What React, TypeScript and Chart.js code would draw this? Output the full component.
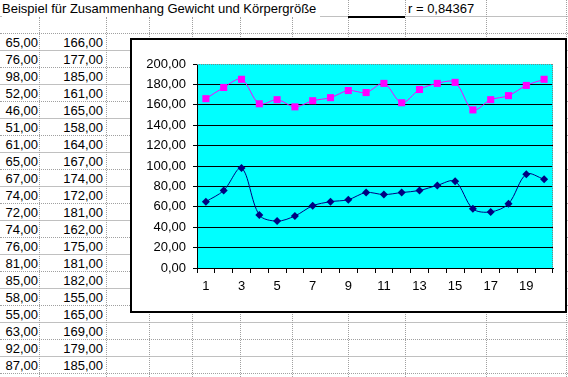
import React, { useEffect, useRef } from "react";
import { Chart, registerables } from "chart.js";

Chart.register(...registerables);

const categories = ["1", "2", "3", "4", "5", "6", "7", "8", "9", "10", "11", "12", "13", "14", "15", "16", "17", "18", "19", "20"];
const weight = [65, 76, 98, 52, 46, 51, 61, 65, 67, 74, 72, 74, 76, 81, 85, 58, 55, 63, 92, 87];
const bodyHeight = [166, 177, 185, 161, 165, 158, 164, 167, 174, 172, 181, 162, 175, 181, 182, 155, 165, 169, 179, 185];
const titleText = "Beispiel für Zusammenhang Gewicht und Körpergröße";
const rText = "r = 0,84367";
const yMin = 0;
const yMax = 200;
const yStep = 20;

const colX = [39, 106, 149, 192, 240, 292, 348, 405, 486, 566];
const FONT = "'Liberation Sans', Arial, sans-serif";

const fmt = (v: number) => v.toFixed(2).replace(".", ",");

const plotBg = {
  id: "plotBg",
  beforeDraw(chart: any) {
    const { ctx, chartArea: a } = chart;
    ctx.save();
    ctx.fillStyle = "#00FFFF";
    ctx.fillRect(a.left, a.top, a.right - a.left, a.bottom - a.top);
    ctx.restore();
  },
  beforeDatasetsDraw(chart: any) {
    const { ctx, chartArea: a } = chart;
    ctx.save();
    ctx.strokeStyle = "#808080";
    ctx.lineWidth = 1;
    ctx.setLineDash([1, 1]);
    ctx.beginPath();
    ctx.moveTo(a.left, Math.round(a.top) + 0.5);
    ctx.lineTo(a.right, Math.round(a.top) + 0.5);
    ctx.moveTo(Math.round(a.right) - 0.5, a.top);
    ctx.lineTo(Math.round(a.right) - 0.5, a.bottom);
    ctx.stroke();
    ctx.restore();
  },
};

function ChartBox() {
  const ref = useRef<HTMLCanvasElement>(null);
  useEffect(() => {
    if (!ref.current) return;
    const chart = new Chart(ref.current, {
      type: "line",
      data: {
        labels: categories,
        datasets: [
          {
            label: "Körpergröße",
            data: bodyHeight,
            borderColor: "#FF00FF",
            backgroundColor: "#FF00FF",
            borderWidth: 1,
            pointStyle: "rect",
            pointRadius: 5,
            pointBorderWidth: 0,
            pointBackgroundColor: "#FF00FF",
            tension: 0.33,
          },
          {
            label: "Gewicht",
            data: weight,
            borderColor: "#000080",
            backgroundColor: "#000080",
            borderWidth: 1,
            pointStyle: "rectRot",
            pointRadius: 4,
            pointBorderWidth: 0,
            pointBackgroundColor: "#000080",
            tension: 0.33,
          },
        ],
      },
      options: {
        animation: false,
        responsive: false,
        layout: { padding: { top: 24, right: 12, left: 0, bottom: 0 } },
        plugins: {
          legend: { display: false },
          tooltip: { enabled: false },
          title: { display: false },
        },
        scales: {
          x: {
            offset: true,
            grid: {
              offset: true,
              drawOnChartArea: false,
              drawTicks: true,
              tickLength: 5,
              tickColor: "#000",
              color: "#000",
            },
            border: { display: true, color: "#000", width: 1 },
            ticks: {
              autoSkip: false,
              maxRotation: 0,
              minRotation: 0,
              padding: 6,
              color: "#000",
              font: { family: FONT, size: 13 },
              callback: (_v: any, i: number) => (i % 2 === 0 ? categories[i] : ""),
            },
            afterFit: (s: any) => {
              s.height = 43;
            },
          },
          y: {
            min: yMin,
            max: yMax,
            grid: {
              color: (c: any) => (c.tick && c.tick.value === yMax ? "rgba(0,0,0,0)" : "#000"),
              tickColor: "#000",
              tickLength: 4,
              lineWidth: 1,
            },
            border: { display: true, color: "#000", width: 1 },
            ticks: {
              stepSize: yStep,
              padding: 7,
              color: "#000",
              font: { family: FONT, size: 13 },
              callback: (v: any) => fmt(Number(v)),
            },
            afterFit: (s: any) => {
              s.width = 65;
            },
          },
        },
      },
      plugins: [plotBg],
    });
    return () => chart.destroy();
  }, []);
  return <canvas ref={ref} width={433} height={271} style={{ display: "block", width: 433, height: 271 }} />;
}

export default function App() {
  const lines: React.ReactNode[] = [];
  for (let k = 1; k <= 22; k++) {
    const y = 17 * k;
    lines.push(
      <div
        key={"h" + k}
        style={{
          position: "absolute",
          left: 0,
          top: y - 1,
          width: 568,
          height: 0,
          borderTop: k % 2 === 1 ? "1px solid #c0c0c0" : "1px dotted #a0a0a0",
        }}
      />
    );
  }
  colX.forEach((x, i) => {
    const top = x >= 348 ? 0 : 17;
    lines.push(
      <div
        key={"v" + i}
        style={{
          position: "absolute",
          left: x,
          top,
          width: 0,
          height: 377 - top,
          borderLeft: "1px dotted #a0a0a0",
        }}
      />
    );
  });

  const cells: React.ReactNode[] = [];
  weight.forEach((w, i) => {
    const top = 34 + 17 * i;
    cells.push(
      <div key={"a" + i} style={{ position: "absolute", left: 0, width: 38, top, height: 17, lineHeight: "17px", textAlign: "right", whiteSpace: "nowrap" }}>
        {fmt(w)}
      </div>
    );
    cells.push(
      <div key={"b" + i} style={{ position: "absolute", left: 40, width: 63, top, height: 17, lineHeight: "17px", textAlign: "right", whiteSpace: "nowrap" }}>
        {fmt(bodyHeight[i])}
      </div>
    );
  });

  return (
    <div
      style={{
        position: "fixed",
        left: 0,
        top: 0,
        width: 568,
        height: 377,
        overflow: "hidden",
        background: "#fff",
        fontFamily: FONT,
        fontSize: 13,
        color: "#000",
      }}
    >
      {lines}
      <div style={{ position: "absolute", left: 348, top: 16, width: 57, height: 2, background: "#000" }} />
      <div style={{ position: "absolute", left: 2, top: 0, height: 17, lineHeight: "17px", whiteSpace: "nowrap", background: "#fff", paddingRight: 4 }}>
        {titleText}
      </div>
      <div style={{ position: "absolute", left: 408, top: 0, height: 17, lineHeight: "17px", whiteSpace: "nowrap" }}>{rText}</div>
      {cells}
      <div
        style={{
          position: "absolute",
          left: 130,
          top: 38,
          width: 437,
          height: 275,
          border: "2px solid #000",
          boxSizing: "border-box",
          background: "#fff",
          zIndex: 2,
        }}
      >
        <ChartBox />
      </div>
    </div>
  );
}
